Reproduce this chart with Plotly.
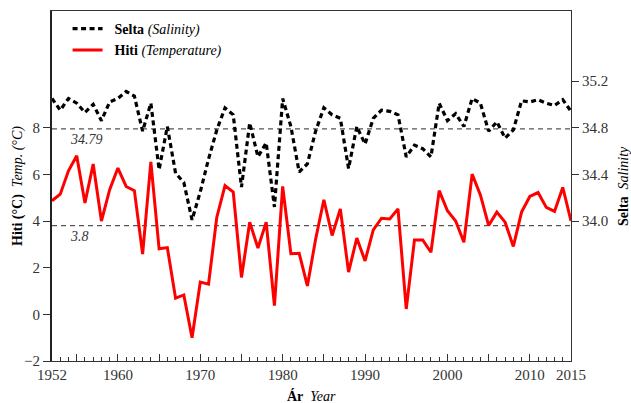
import plotly.graph_objects as go

years = list(range(1952, 2016))

temperature = [
    4.87, 5.15, 6.15, 6.80, 4.77, 6.44, 4.00, 5.34, 6.27, 5.48,
    5.30, 2.58, 6.53, 2.81, 2.86, 0.69, 0.83, -1.00, 1.38, 1.29,
    4.15, 5.52, 5.24, 1.58, 3.95, 2.84, 3.95, 0.37, 5.48, 2.60,
    2.62, 1.22, 3.22, 4.91, 3.38, 4.52, 1.81, 3.27, 2.29, 3.62,
    4.12, 4.09, 4.52, 0.23, 3.19, 3.19, 2.66, 5.30, 4.44, 4.00,
    3.09, 6.01, 5.12, 3.81, 4.38, 3.95, 2.91, 4.38, 5.05, 5.22,
    4.58, 4.41, 5.44, 4.00,
]

salinity = [
    35.05, 34.95, 35.05, 35.01, 34.93, 35.00, 34.86, 35.02, 35.05, 35.11,
    35.07, 34.77, 35.01, 34.44, 34.81, 34.41, 34.33, 34.01, 34.25, 34.53,
    34.78, 34.97, 34.91, 34.29, 34.84, 34.55, 34.67, 34.12, 35.05, 34.81,
    34.42, 34.49, 34.77, 34.97, 34.91, 34.88, 34.45, 34.81, 34.66, 34.88,
    34.95, 34.94, 34.91, 34.55, 34.65, 34.62, 34.55, 35.01, 34.86, 34.92,
    34.81, 35.05, 35.01, 34.77, 34.85, 34.71, 34.78, 35.03, 35.02, 35.04,
    35.01, 34.99, 35.04, 34.94,
]

temp_ref = 3.8
sal_ref = 34.79

x_major = [1952] + list(range(1955, 2016, 5))
x_labels = ["1952", "", "1960", "", "1970", "", "1980", "", "1990", "", "2000", "", "2010", "2015"]

left_ticks = [-2, 0, 2, 4, 6, 8]
right_ticks = [34.0, 34.4, 34.8, 35.2]

FONT = "Liberation Serif, Times New Roman, serif"

fig = go.Figure()

fig.add_trace(go.Scatter(
    x=years, y=salinity, yaxis="y2", mode="lines",
    name="&nbsp;&nbsp;<b>Selta</b> <i>(Salinity)</i>",
    line=dict(color="black", width=3.2, dash="5px,3.5px"),
))
fig.add_trace(go.Scatter(
    x=years, y=temperature, mode="lines",
    name="&nbsp;&nbsp;<b>Hiti</b> <i>(Temperature)</i>",
    line=dict(color="#ff0000", width=3),
))

fig.add_shape(type="line", xref="paper", x0=0, x1=1, yref="y", y0=temp_ref, y1=temp_ref,
              line=dict(color="#555555", width=1.3, dash="5px,4px"), layer="below")
fig.add_shape(type="line", xref="paper", x0=0, x1=1, yref="y2", y0=sal_ref, y1=sal_ref,
              line=dict(color="#555555", width=1.3, dash="5px,4px"), layer="below")

fig.add_annotation(text=f"<i>{sal_ref}</i>", xref="paper", x=0.03, xanchor="left",
                   yref="y2", y=sal_ref, yanchor="top", yshift=-1, showarrow=False,
                   font=dict(family=FONT, size=14, color="#333333"))
fig.add_annotation(text=f"<i>{temp_ref}</i>", xref="paper", x=0.03, xanchor="left",
                   yref="y", y=temp_ref, yanchor="top", yshift=-1, showarrow=False,
                   font=dict(family=FONT, size=14, color="#333333"))

# axis titles
TFONT = dict(family=FONT, size=14, color="black")
fig.add_annotation(text="<b>Hiti (°C)</b>  <i>Temp. (°C)</i>", xref="paper", x=0, xshift=-34,
                   xanchor="center", yref="paper", y=0.5, yanchor="middle",
                   textangle=-90, showarrow=False, font=TFONT)
fig.add_annotation(text="<b>Selta</b>  <i>Salinity</i>", xref="paper", x=1, xshift=52,
                   xanchor="center", yref="paper", y=0.5, yanchor="middle",
                   textangle=-90, showarrow=False, font=TFONT)
fig.add_annotation(text="<b>Ár</b>  <i>Year</i>", xref="paper", x=0.5, xanchor="center",
                   yref="paper", y=0, yshift=-35, yanchor="middle",
                   showarrow=False, font=TFONT)

fig.update_layout(
    width=631, height=403,
    margin=dict(l=52, r=60, t=11, b=42, autoexpand=False),
    paper_bgcolor="white", plot_bgcolor="white",
    font=dict(family=FONT, size=14, color="#333333"),
    showlegend=True,
    legend=dict(x=0.03, y=0.994, xanchor="left", yanchor="top",
                bgcolor="rgba(0,0,0,0)", font=dict(family=FONT, size=14, color="black"),
                tracegroupgap=0),
    xaxis=dict(
        range=[1952, 2015], tickmode="array", tickvals=x_major, ticktext=x_labels,
        ticks="inside", ticklen=7, tickwidth=1, tickcolor="#333",
        minor=dict(tickmode="linear", tick0=1952, dtick=1, ticks="inside", ticklen=4, tickcolor="#333"),
        showline=True, linecolor="#333", linewidth=1.2, mirror=True,
        showgrid=False, zeroline=False, automargin=False,
        tickfont=dict(family=FONT, size=15, color="#333"),
    ),
    yaxis=dict(
        range=[-2, 13], tickmode="array", tickvals=left_ticks,
        ticks="outside", ticklen=7, tickwidth=1, tickcolor="#333",
        showline=True, linecolor="#222", linewidth=2.2,
        showgrid=False, zeroline=False, automargin=False,
        tickfont=dict(family=FONT, size=15, color="#333"),
    ),
    yaxis2=dict(
        range=[32.8, 35.8], overlaying="y", side="right",
        tickmode="array", tickvals=right_ticks, tickformat=".1f",
        ticks="outside", ticklen=7, tickwidth=1, tickcolor="#333",
        showline=True, linecolor="#333", linewidth=1.2,
        showgrid=False, zeroline=False, automargin=False,
        tickfont=dict(family=FONT, size=15, color="#333"),
    ),
)

fig.write_html("out.html", config={"displayModeBar": False},
               post_script="document.body.style.margin='0';document.body.style.overflow='hidden';")
